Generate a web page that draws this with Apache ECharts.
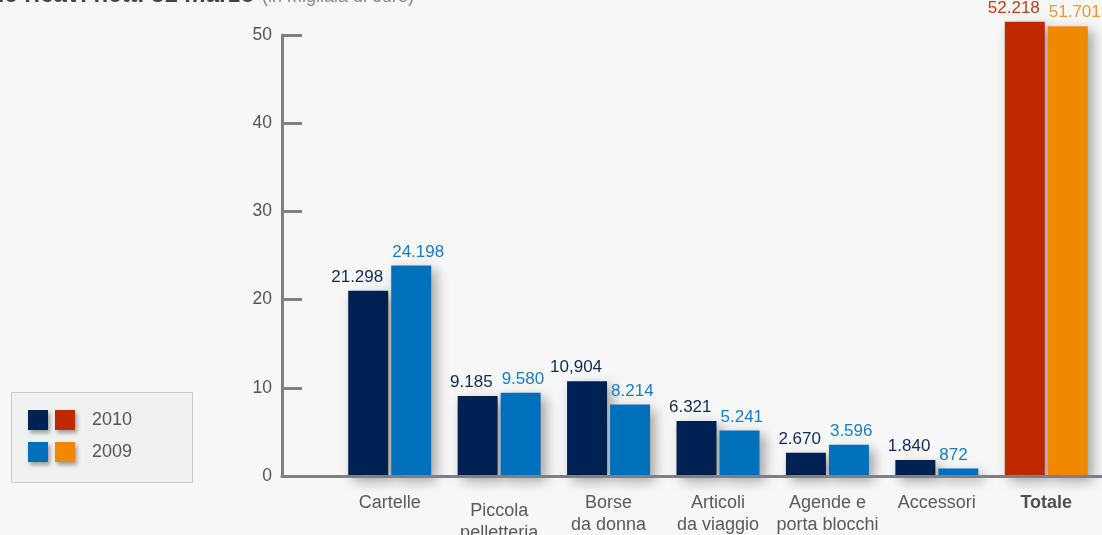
<!DOCTYPE html>
<html>
<head>
<meta charset="utf-8">
<script src="https://cdn.jsdelivr.net/npm/echarts@6/dist/echarts.min.js"></script>
<style>
html,body{margin:0;padding:0;background:#f7f7f7;}
#c{width:1102px;height:535px;}
</style>
</head>
<body>
<div id="c"></div>
<script>
const categories = ['Cartelle', 'Piccola\npelletteria', 'Borse\nda donna', 'Articoli\nda viaggio', 'Agende e\nporta blocchi', 'Accessori', 'Totale'];
const values2010 = [21.298, 9.185, 10.904, 6.321, 2.670, 1.840, '-'];
const values2009 = [24.198, 9.580, 8.214, 5.241, 3.596, 0.872, '-'];
const total2010 = ['-', '-', '-', '-', '-', '-', 52.218];
const total2009 = ['-', '-', '-', '-', '-', '-', 51.701];
const labels2010 = ['21.298', '9.185', '10,904', '6.321', '2.670', '1.840', '52.218'];
const labels2009 = ['24.198', '9.580', '8.214', '5.241', '3.596', '872', '51.701'];
const yTicks = [0, 10, 20, 30, 40, 50];

const FONT = 'Liberation Sans, Arial, Helvetica, sans-serif';
const NAVY = '#002153', BLUE = '#0070bb', RED = '#c02800', ORANGE = '#f08800';
const AXIS = '#808084';

const shadow = { shadowColor: 'rgba(0,0,0,0.35)', shadowBlur: 12, shadowOffsetX: 5, shadowOffsetY: 5 };

function darkLabel(color, arr) {
  return { show: true, position: 'top', align: 'right', offset: [15, 0], color: color,
    fontFamily: FONT, fontSize: 17, formatter: p => arr[p.dataIndex] };
}
function lightLabel(color, arr) {
  return { show: true, position: 'top', align: 'left', offset: [-19, 0], color: color,
    fontFamily: FONT, fontSize: 17, formatter: p => arr[p.dataIndex] };
}

const catData = categories.map((c, i) => {
  if (c === 'Totale') return { value: c, textStyle: { fontWeight: 'bold', color: '#505050' } };
  if (i === 1) return { value: c, textStyle: { padding: [8, 0, 0, 0] } };
  return c;
});

const chart = echarts.init(document.getElementById('c'));
chart.setOption({
  backgroundColor: '#f7f7f7',
  animation: false,
  graphic: [
    { type: 'rect', z: 0, shape: { x: 11.5, y: 392.5, width: 181, height: 90 },
      style: { fill: '#f0f1f1', stroke: '#c9c9c9', lineWidth: 1 } },
    { type: 'text', z: 1, x: 255, y: -5, style: { text: 'Ripartizione ricavi netti 31 marzo', fill: '#444',
      font: 'bold 24px ' + FONT, textAlign: 'right', textVerticalAlign: 'middle' } },
    { type: 'text', z: 1, x: 262, y: -3, style: { text: '(in migliaia di euro)', fill: '#888',
      font: '18px ' + FONT, textAlign: 'left', textVerticalAlign: 'middle' } }
  ],
  legend: [
    { data: ['2010', '2009'], orient: 'vertical', left: 28, top: 410, padding: 0,
      itemWidth: 20, itemHeight: 20, itemGap: 12, icon: 'rect', selectedMode: false,
      formatter: () => '', itemStyle: { shadowColor: 'rgba(0,0,0,0.35)', shadowBlur: 4, shadowOffsetX: 2, shadowOffsetY: 3 } },
    { data: ['2010 totale', '2009 totale'], orient: 'vertical', left: 55, top: 410, padding: 0,
      itemWidth: 20, itemHeight: 20, itemGap: 12, icon: 'rect', selectedMode: false,
      formatter: n => n.slice(0, 4),
      textStyle: { fontFamily: FONT, fontSize: 18, color: '#555', padding: [0, 0, 0, 12] },
      itemStyle: { shadowColor: 'rgba(0,0,0,0.35)', shadowBlur: 4, shadowOffsetX: 2, shadowOffsetY: 3 } }
  ],
  grid: [
    { left: 282, right: 0, top: 35, bottom: 59, outerBoundsMode: 'none', containLabel: false },
    { left: 335, right: 1, top: 41, bottom: 59, outerBoundsMode: 'none', containLabel: false }
  ],
  xAxis: [
    { gridIndex: 0, type: 'value', min: 0, max: 1, z: 5,
      axisLine: { show: true, lineStyle: { color: AXIS, width: 3 } },
      axisTick: { show: false }, axisLabel: { show: false }, splitLine: { show: false } },
    { gridIndex: 1, type: 'category', data: catData,
      axisLine: { show: false }, axisTick: { show: false },
      axisLabel: { interval: 0, fontFamily: FONT, fontSize: 18, color: '#5a5a5a', lineHeight: 22, margin: 16 } }
  ],
  yAxis: [
    { gridIndex: 0, type: 'value', min: yTicks[0], max: yTicks[yTicks.length - 1], interval: 10, z: 5,
      axisLine: { show: true, lineStyle: { color: AXIS, width: 3 } },
      axisTick: { show: true, inside: true, length: 20, lineStyle: { color: AXIS, width: 3 } },
      axisLabel: { fontFamily: FONT, fontSize: 17.5, color: '#555', margin: 10 },
      splitLine: { show: false } },
    { gridIndex: 1, type: 'value', min: 0, max: 50, show: false, splitLine: { show: false } }
  ],
  series: [
    { name: '2010', type: 'bar', xAxisIndex: 1, yAxisIndex: 1, stack: 'a', data: values2010,
      barWidth: 40, barGap: '7.5%', clip: false,
      itemStyle: Object.assign({ color: NAVY }, shadow), label: darkLabel('#0f2a5c', labels2010) },
    { name: '2010 totale', type: 'bar', xAxisIndex: 1, yAxisIndex: 1, stack: 'a', data: total2010,
      barWidth: 40, barGap: '7.5%', clip: false,
      itemStyle: Object.assign({ color: RED }, shadow), label: darkLabel('#c43a1a', labels2010) },
    { name: '2009', type: 'bar', xAxisIndex: 1, yAxisIndex: 1, stack: 'b', data: values2009,
      barWidth: 40, barGap: '7.5%', clip: false,
      itemStyle: Object.assign({ color: BLUE }, shadow), label: lightLabel('#1a7cc6', labels2009) },
    { name: '2009 totale', type: 'bar', xAxisIndex: 1, yAxisIndex: 1, stack: 'b', data: total2009,
      barWidth: 40, barGap: '7.5%', clip: false,
      itemStyle: Object.assign({ color: ORANGE }, shadow), label: lightLabel('#f0962a', labels2009) }
  ]
});
</script>
</body>
</html>
